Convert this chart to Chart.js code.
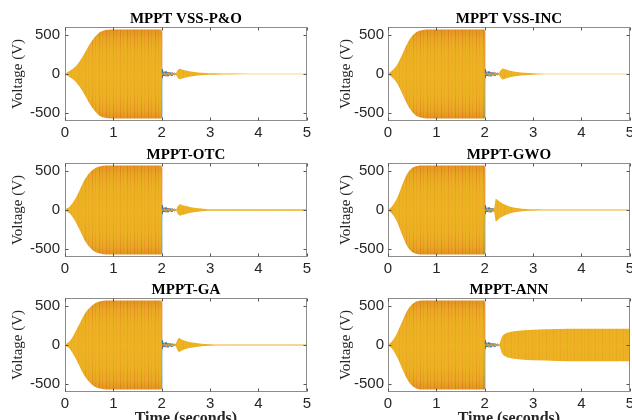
<!DOCTYPE html>
<html>
<head>
<meta charset="utf-8">
<script src="https://cdn.jsdelivr.net/npm/chart.js@4.4.1/dist/chart.umd.min.js"></script>
<style>
  html, body { margin: 0; padding: 0; background: #fff; }
  body { width: 632px; height: 420px; overflow: hidden; position: relative; }
  canvas { position: absolute; }
</style>
</head>
<body>
<script>
// ============================================
// DATA
// ============================================
const panelTitles = ['MPPT VSS-P&O', 'MPPT VSS-INC', 'MPPT-OTC', 'MPPT-GWO', 'MPPT-GA', 'MPPT-ANN'];
const xTicks = [0, 1, 2, 3, 4, 5];
const yTicks = [-500, 0, 500];

// peak (envelope) of the three-phase voltage, time in seconds
const pnoTime = [0, 0.05, 0.1, 0.2, 0.3, 0.4, 0.5, 0.6, 0.7, 0.8, 0.9, 1.0, 1.998, 2.003, 2.29, 2.31, 2.34, 2.37, 2.42, 2.5, 2.6, 2.75, 2.9, 3.1, 3.4, 3.8, 5.0];
const pnoPeak = [6, 22, 40, 85, 160, 260, 370, 460, 525, 555, 566, 568, 568, 6, 6, 30, 55, 68, 58, 45, 33, 20, 12, 8, 5, 4, 4];

const incTime = [0, 0.05, 0.1, 0.2, 0.3, 0.4, 0.5, 0.6, 0.7, 0.8, 1.0, 1.998, 2.003, 2.29, 2.31, 2.34, 2.37, 2.42, 2.5, 2.6, 2.75, 2.9, 3.1, 3.4, 5.0];
const incPeak = [6, 25, 50, 130, 260, 390, 485, 540, 560, 567, 568, 568, 6, 6, 30, 55, 70, 60, 46, 33, 20, 12, 7, 4, 4];

const otcTime = [0, 0.05, 0.1, 0.2, 0.3, 0.4, 0.5, 0.6, 0.7, 0.8, 0.9, 1.998, 2.003, 2.3, 2.32, 2.35, 2.38, 2.43, 2.5, 2.6, 2.75, 2.9, 3.0, 3.2, 5.0];
const otcPeak = [6, 25, 45, 130, 250, 380, 470, 525, 552, 564, 568, 568, 6, 6, 35, 60, 72, 62, 50, 36, 22, 14, 11, 9, 8];

const gwoTime = [0, 0.05, 0.1, 0.2, 0.3, 0.4, 0.5, 0.6, 0.7, 1.998, 2.003, 2.18, 2.2, 2.23, 2.28, 2.35, 2.45, 2.55, 2.7, 2.85, 3.0, 3.2, 5.0];
const gwoPeak = [6, 28, 60, 170, 330, 465, 535, 562, 568, 568, 6, 6, 40, 145, 120, 90, 60, 38, 22, 12, 8, 6, 6];

const gaTime = [0, 0.05, 0.1, 0.2, 0.3, 0.4, 0.5, 0.6, 0.7, 0.8, 0.9, 1.998, 2.003, 2.28, 2.3, 2.33, 2.36, 2.4, 2.5, 2.6, 2.75, 2.9, 3.0, 3.2, 5.0];
const gaPeak = [6, 25, 50, 150, 270, 390, 470, 525, 552, 564, 568, 568, 6, 6, 30, 70, 88, 75, 52, 36, 22, 12, 8, 6, 6];

const annTime = [0, 0.05, 0.1, 0.2, 0.3, 0.4, 0.5, 0.6, 0.7, 1.998, 2.003, 2.29, 2.31, 2.33, 2.36, 2.42, 2.5, 2.6, 2.8, 3.0, 3.5, 4.0, 5.0];
const annPeak = [6, 28, 60, 170, 310, 440, 520, 558, 568, 568, 6, 6, 20, 60, 110, 145, 163, 176, 189, 196, 203, 206, 208];

// phase traces right after the 2 s disturbance
const phaseTime = [2.0, 2.01, 2.05, 2.09, 2.13, 2.17, 2.21, 2.25, 2.29];
const phaseA = [-560, 55, -25, 35, -30, 22, -25, 12, 0];
const phaseB = [545, -45, 30, -30, 25, -20, 20, -10, 0];
const phaseC = [20, -15, -20, 5, 15, -5, 10, -5, 0];

const envelopes = [
    [pnoTime, pnoPeak], [incTime, incPeak], [otcTime, otcPeak],
    [gwoTime, gwoPeak], [gaTime, gaPeak], [annTime, annPeak]
];

// ============================================
// STYLE / LAYOUT
// ============================================
const BLUE = '#0072BD';
const ORANGE = '#D95319';
const YELLOW = '#EDB120';
const TEXT = '#262626';

const colLeft = [0, 328];
const yAxisWidth = [59, 54];
const yTickPad = [5, 4];
const plotRight = [310, 633];
const rowTop = [27, 163, 298];
const plotH = 94;
const topBlock = 23; // title + padding above plot area
const titleLine = 16.5;

const serif = '"Liberation Serif", "Times New Roman", serif';
const sans = '"Liberation Sans", Arial, sans-serif';

// yellow body with orange streaks, heavier near the peaks (aliased sine waves)
function envelopeFill(context) {
    const chart = context.chart;
    if (!chart.chartArea) return YELLOW;
    if (chart.$stripes) return chart.$stripes;
    const y = chart.scales.y;
    const y0 = y.getPixelForValue(600), y1 = y.getPixelForValue(-600);
    const tile = document.createElement('canvas');
    tile.width = 7;
    tile.height = chart.height;
    const c = tile.getContext('2d');

    const base = c.createLinearGradient(0, y0, 0, y1);
    base.addColorStop(0.0, '#e2901f');
    base.addColorStop(0.05, '#e59a21');
    base.addColorStop(0.12, '#e9a824');
    base.addColorStop(0.25, '#ecb123');
    base.addColorStop(0.5, '#edb323');
    base.addColorStop(0.75, '#ecb123');
    base.addColorStop(0.88, '#e9a824');
    base.addColorStop(0.95, '#e59a21');
    base.addColorStop(1.0, '#e2901f');
    c.fillStyle = base;
    c.fillRect(0, 0, tile.width, tile.height);

    const streak = (alphaEdge, alphaMid) => {
        const s = c.createLinearGradient(0, y0, 0, y1);
        s.addColorStop(0.0, `rgba(217,100,25,${alphaEdge})`);
        s.addColorStop(0.15, `rgba(217,100,25,${alphaEdge * 0.6})`);
        s.addColorStop(0.3, `rgba(217,100,25,${alphaMid})`);
        s.addColorStop(0.5, `rgba(217,100,25,${alphaMid * 0.6})`);
        s.addColorStop(0.7, `rgba(217,100,25,${alphaMid})`);
        s.addColorStop(0.85, `rgba(217,100,25,${alphaEdge * 0.6})`);
        s.addColorStop(1.0, `rgba(217,100,25,${alphaEdge})`);
        return s;
    };
    c.fillStyle = streak(0.55, 0.18);
    c.fillRect(1, 0, 1, tile.height);
    c.fillStyle = streak(0.3, 0.08);
    c.fillRect(4, 0, 1, tile.height);

    chart.$stripes = chart.ctx.createPattern(tile, 'repeat');
    return chart.$stripes;
}

// box round the axes with inward ticks, like MATLAB
const axesBox = {
    id: 'axesBox',
    afterDraw(chart) {
        const { ctx, chartArea: a, scales } = chart;
        const l = Math.round(a.left) + 0.5, r = Math.round(a.right) - 0.5;
        const t = Math.round(a.top) + 0.5, b = Math.round(a.bottom) - 0.5;
        ctx.save();
        ctx.lineWidth = 1;
        ctx.strokeStyle = '#8c8c8c';
        ctx.strokeRect(l, t, r - l, b - t);
        ctx.strokeStyle = '#555';
        ctx.beginPath();
        scales.x.ticks.forEach(tk => {
            const px = Math.round(scales.x.getPixelForValue(tk.value)) + 0.5;
            ctx.moveTo(px, b); ctx.lineTo(px, b - 3);
            ctx.moveTo(px, t); ctx.lineTo(px, t + 3);
        });
        scales.y.ticks.forEach(tk => {
            const py = Math.round(scales.y.getPixelForValue(tk.value)) + 0.5;
            ctx.moveTo(l, py); ctx.lineTo(l + 3, py);
            ctx.moveTo(r, py); ctx.lineTo(r - 3, py);
        });
        ctx.stroke();
        ctx.restore();
    }
};

function points(xs, ys, sign) {
    return xs.map((x, k) => ({ x: x, y: sign * ys[k] }));
}

function phaseSet(values, color) {
    return {
        data: points(phaseTime, values, 1),
        borderColor: color,
        borderWidth: 1,
        pointRadius: 0,
        tension: 0.4,
        fill: false,
        order: 2
    };
}

// ============================================
// BUILD THE SIX PANELS
// ============================================
panelTitles.forEach((title, i) => {
    const col = i % 2;
    const row = Math.floor(i / 2);
    const xh = row === 2 ? 40 : 24;
    const left = colLeft[col];
    const top = rowTop[row] - topBlock;
    const width = plotRight[col] - left + 4;
    const height = topBlock + plotH + xh;

    const canvas = document.createElement('canvas');
    canvas.width = width;
    canvas.height = height;
    canvas.style.left = left + 'px';
    canvas.style.top = top + 'px';
    document.body.appendChild(canvas);

    const [time, peak] = envelopes[i];

    new Chart(canvas, {
        type: 'line',
        data: {
            datasets: [
                {
                    data: points(time, peak, 1),
                    fill: '+1',
                    backgroundColor: envelopeFill,
                    borderWidth: 0,
                    pointRadius: 0,
                    cubicInterpolationMode: 'monotone',
                    order: 1
                },
                {
                    data: points(time, peak, -1),
                    fill: false,
                    borderWidth: 0,
                    pointRadius: 0,
                    cubicInterpolationMode: 'monotone',
                    order: 1
                },
                phaseSet(phaseA, BLUE),
                phaseSet(phaseB, ORANGE),
                phaseSet(phaseC, YELLOW)
            ]
        },
        options: {
            responsive: false,
            animation: false,
            events: [],
            layout: { padding: { left: 6, right: 4, top: topBlock - titleLine, bottom: 0 } },
            plugins: {
                legend: { display: false },
                tooltip: { enabled: false },
                title: {
                    display: true,
                    text: title,
                    fullSize: false,
                    color: '#000',
                    font: { family: serif, size: 15, weight: 'bold', lineHeight: titleLine / 15 },
                    padding: { top: 0, bottom: 0 }
                }
            },
            scales: {
                x: {
                    type: 'linear',
                    min: 0,
                    max: 5,
                    afterBuildTicks: s => { s.ticks = xTicks.map(v => ({ value: v })); },
                    afterFit: s => { s.height = xh; },
                    grid: { display: false, drawTicks: false },
                    border: { display: false },
                    ticks: {
                        padding: 3,
                        color: TEXT,
                        maxRotation: 0,
                        autoSkip: false,
                        font: { family: sans, size: 15 },
                        callback: v => String(v)
                    },
                    title: {
                        display: row === 2,
                        text: 'Time (seconds)',
                        color: TEXT,
                        font: { family: serif, size: 16, weight: 'bold', lineHeight: 1.2 },
                        padding: { top: 0, bottom: 4 }
                    }
                },
                y: {
                    type: 'linear',
                    min: -600,
                    max: 600,
                    afterBuildTicks: s => { s.ticks = yTicks.map(v => ({ value: v })); },
                    afterFit: s => { s.width = yAxisWidth[col]; },
                    grid: { display: false, drawTicks: false },
                    border: { display: false },
                    ticks: {
                        padding: yTickPad[col],
                        color: TEXT,
                        font: { family: sans, size: 15 },
                        callback: v => String(v)
                    },
                    title: {
                        display: true,
                        text: 'Voltage (V)',
                        color: TEXT,
                        font: { family: serif, size: 15, lineHeight: 1.2 },
                        padding: { top: 3, bottom: 0 }
                    }
                }
            }
        },
        plugins: [axesBox]
    });
});
</script>
</body>
</html>
